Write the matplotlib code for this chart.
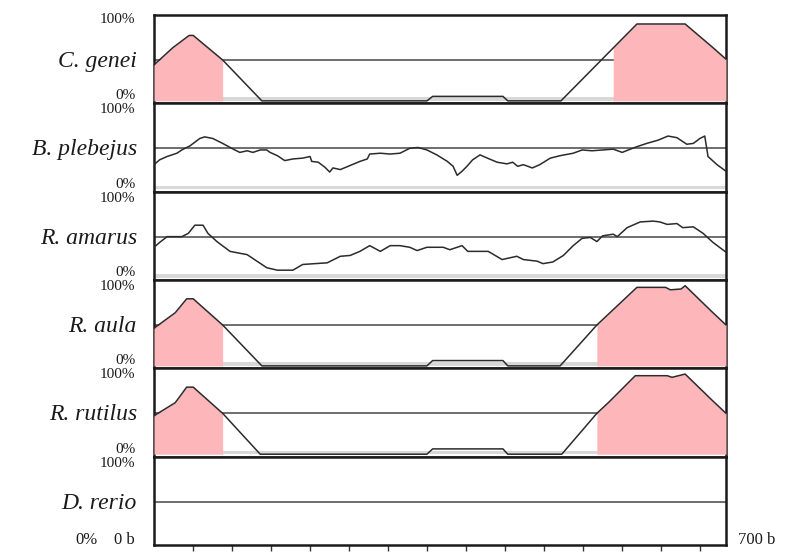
import numpy as np
import matplotlib
matplotlib.use("Agg")
import matplotlib.pyplot as plt

# ---- data: percent identity along the 700 b region ----
species = ["C. genei", "B. plebejus", "R. amarus", "R. aula", "R. rutilus", "D. rerio"]

genei_pos = [0, 23, 43, 48, 84, 132, 334, 341, 427, 433, 498, 591, 650, 683, 700]
genei_pct = [44, 65, 80, 80, 50, 0, 0, 5.5, 5.5, 0, 0, 94, 94, 66, 51]

plebejus_pos = [0, 7, 16, 28, 34, 44, 56, 62, 72, 84, 97, 105, 114, 121, 130, 138, 142, 151,
                160, 170, 182, 191, 193, 201, 209, 215, 219, 228, 240, 252, 261, 264, 277,
                289, 301, 313, 323, 334, 346, 359, 366, 371, 377, 383, 390, 399, 408, 420,
                432, 439, 445, 452, 463, 472, 485, 497, 513, 524, 536, 549, 562, 573, 583,
                591, 603, 617, 629, 640, 652, 660, 668, 674, 678, 689, 700]
plebejus_pct = [30, 36, 40, 44, 48, 53, 62, 64, 62, 56, 49, 45, 47, 45, 48, 48, 45, 41,
                35, 37, 38, 40, 34, 33, 27, 21, 26, 24, 29, 34, 37, 43, 44,
                43, 44, 50, 51, 48, 42, 34, 28, 17, 22, 28, 36, 42, 38, 33,
                31, 33, 28, 30, 26, 30, 38, 41, 44, 48, 47, 48, 49, 45, 49,
                52, 56, 60, 65, 63, 55, 56, 62, 65, 40, 30, 22]

amarus_pos = [0, 7, 16, 34, 42, 50, 60, 66, 77, 93, 114, 126, 138, 151, 170, 182, 212, 228,
              240, 252, 264, 277, 289, 301, 313, 322, 334, 354, 362, 377, 384, 409, 426,
              444, 452, 469, 476, 488, 501, 513, 524, 534, 542, 549, 562, 567, 579, 595,
              611, 619, 628, 640, 647, 660, 672, 684, 700]
amarus_pct = [37, 43, 50, 50, 54, 64, 64, 54, 44, 32, 28, 20, 12, 9, 9, 16, 18, 26,
              27, 32, 39, 32, 39, 39, 37, 33, 37, 37, 34, 39, 32, 32, 22,
              26, 22, 20, 17, 19, 27, 39, 48, 49, 44, 51, 53, 50, 61, 68,
              69, 68, 65, 66, 61, 62, 54, 43, 31]

aula_pos = [0, 26, 40, 48, 84, 132, 334, 341, 427, 433, 497, 542, 558, 591, 626, 632, 645, 650, 683, 700]
aula_pct = [46, 65, 82, 82, 50, 0, 0, 6.5, 6.5, 0, 0, 50, 65, 96, 96, 93, 94, 98, 66, 50]

rutilus_pos = [0, 26, 40, 48, 84, 130, 334, 341, 427, 433, 499, 542, 556, 589, 628, 634, 650, 683, 700]
rutilus_pct = [47, 63, 82, 82, 50, 0, 0, 6.5, 6.5, 0, 0, 50, 63, 96, 96, 94, 98, 66, 50]

# conserved regions (start, end in b) shaded pink
genei_cns = [(0, 84), (562, 700)]
aula_cns = [(0, 84), (542, 700)]
rutilus_cns = [(0, 84), (542, 700)]

curves = [(genei_pos, genei_pct, genei_cns),
          (plebejus_pos, plebejus_pct, []),
          (amarus_pos, amarus_pct, []),
          (aula_pos, aula_pct, aula_cns),
          (rutilus_pos, rutilus_pct, rutilus_cns),
          None]

seq_len = 700
tick_step = 47.7

# ---- figure ----
W, H = 804, 552
fig = plt.figure(figsize=(W / 100, H / 100), dpi=100)
fig.subplots_adjust(left=154 / W, right=726 / W, top=1 - 15 / H, bottom=1 - 545 / H, hspace=0)
axes = fig.subplots(len(species), 1, sharex=True)

serif = ["Liberation Serif", "DejaVu Serif"]
pink = "#fdb6b9"
line_col = "#2b2b2b"
text_col = "#1a1a1a"

for i, (ax, name, cur) in enumerate(zip(axes, species, curves)):
    ax.set_xlim(0, seq_len)
    ax.set_ylim(-3, 105)
    ax.set_yticks([])
    ax.axhline(50, color="#555555", lw=1.2, zorder=2)
    if cur is not None:
        pos, pct, cns = cur
        ax.axhspan(0, 4.5, color="#d8d8d8", lw=0, zorder=1)
        xs = np.linspace(0, seq_len, 2801)
        ys = np.interp(xs, pos, pct)
        for a, b in cns:
            m = (xs >= a) & (xs <= b)
            ax.fill_between(xs[m], 0, ys[m], color=pink, lw=0, zorder=3)
        ax.plot(pos, pct, color=line_col, lw=1.1, zorder=4, solid_joinstyle="round")
    for s in ax.spines.values():
        s.set_linewidth(1.8)
        s.set_color(text_col)

    ax.annotate(name, xy=(0, 50), xycoords=("axes fraction", "data"),
                xytext=(-17, -7), textcoords="offset pixels",
                ha="right", va="baseline", fontsize=17, style="italic",
                family=serif, color=text_col)
    top_off = -8 if i == 0 else -10
    ax.annotate("100%", xy=(0, 1), xycoords="axes fraction",
                xytext=(-19, top_off), textcoords="offset pixels",
                ha="right", va="baseline", fontsize=11, family=serif, color=text_col)
    if i < len(species) - 1:
        ax.annotate("0%", xy=(0, 0), xycoords="axes fraction",
                    xytext=(-18, 4), textcoords="offset pixels",
                    ha="right", va="baseline", fontsize=11, family=serif, color=text_col)
        ax.tick_params(axis="x", bottom=False, labelbottom=False)

bottom = axes[-1]
bottom.set_xticks(np.arange(tick_step, seq_len, tick_step))
bottom.tick_params(axis="x", direction="out", length=4, width=1, color="#333333",
                   labelbottom=False)
bottom.annotate("0%", xy=(0, 0), xycoords="axes fraction",
                xytext=(-56, 1), textcoords="offset pixels",
                ha="right", va="baseline", fontsize=12, family=serif, color=text_col)
bottom.annotate("0 b", xy=(0, 0), xycoords="axes fraction",
                xytext=(-19, 1), textcoords="offset pixels",
                ha="right", va="baseline", fontsize=12, family=serif, color=text_col)
bottom.annotate("700 b", xy=(1, 0), xycoords="axes fraction",
                xytext=(12, 1), textcoords="offset pixels",
                ha="left", va="baseline", fontsize=12, family=serif, color=text_col)

fig.savefig("out.png", dpi=100, facecolor="white")
